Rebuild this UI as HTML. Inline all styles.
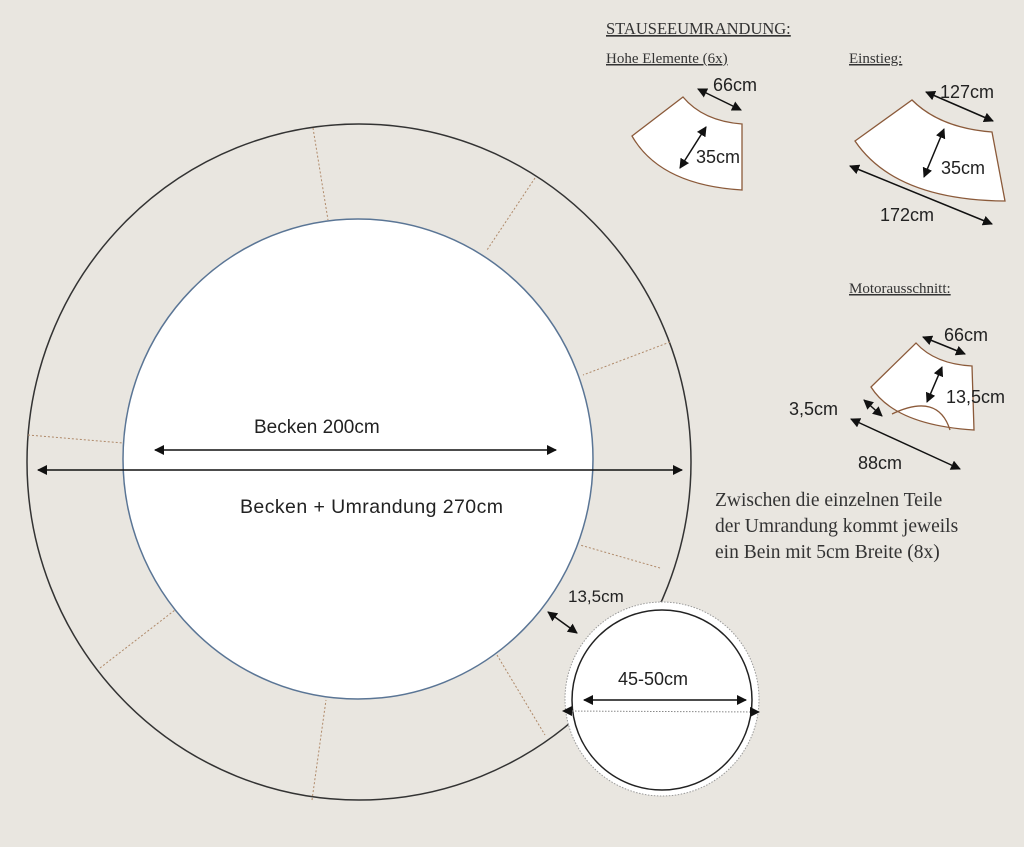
<!DOCTYPE html>
<html><head><meta charset="utf-8"><style>
html,body{margin:0;padding:0;background:#e9e6e0;}
svg{display:block;}
.s{font-family:"Liberation Sans",sans-serif;fill:#222;}
.r{font-family:"Liberation Serif",serif;fill:#333;}
</style></head><body>
<svg width="1024" height="847" viewBox="0 0 1024 847" xmlns="http://www.w3.org/2000/svg">
<defs>
<marker id="a" viewBox="0 0 10 10" refX="9" refY="5" markerWidth="10" markerHeight="10" markerUnits="userSpaceOnUse" orient="auto-start-reverse"><path d="M0,0L10,5L0,10z" fill="#111"/></marker>
</defs>
<rect width="1024" height="847" fill="#e9e6e0"/>
<ellipse cx="359" cy="462" rx="332" ry="338" fill="none" stroke="#333" stroke-width="1.5"/>
<g stroke="#b08a6a" stroke-width="1" stroke-dasharray="2,2">
<line x1="313" y1="128" x2="328" y2="220"/><line x1="535" y1="178" x2="487" y2="250"/>
<line x1="670" y1="342" x2="583" y2="375"/><line x1="28" y1="435" x2="123" y2="443"/>
<line x1="660" y1="568" x2="580" y2="545"/><line x1="100" y1="668" x2="175" y2="610"/>
<line x1="497" y1="655" x2="545" y2="735"/><line x1="312" y1="800" x2="326" y2="700"/>
</g>
<ellipse cx="358" cy="459" rx="235" ry="240" fill="#fff" stroke="#5a7595" stroke-width="1.5"/>
<line x1="155" y1="450" x2="556" y2="450" stroke="#111" stroke-width="1.5" marker-start="url(#a)" marker-end="url(#a)"/>
<line x1="38" y1="470" x2="682" y2="470" stroke="#111" stroke-width="1.5" marker-start="url(#a)" marker-end="url(#a)"/>
<text x="254" y="433" class="s" font-size="19">Becken 200cm</text>
<text x="240" y="513" class="s" font-size="19.5" textLength="263">Becken + Umrandung 270cm</text>
<circle cx="662" cy="699" r="97" fill="#fff" stroke="#999" stroke-width="1" stroke-dasharray="1.5,1.5"/>
<circle cx="662" cy="700" r="90" fill="#fff" stroke="#222" stroke-width="1.5"/>
<line x1="563" y1="711" x2="759" y2="712" stroke="#888" stroke-width="1" stroke-dasharray="1.5,1.5" marker-start="url(#a)" marker-end="url(#a)"/>
<line x1="584" y1="700" x2="746" y2="700" stroke="#111" stroke-width="1.5" marker-start="url(#a)" marker-end="url(#a)"/>
<text x="618" y="685" class="s" font-size="18">45-50cm</text>
<line x1="548" y1="612" x2="577" y2="633" stroke="#111" stroke-width="1.5" marker-start="url(#a)" marker-end="url(#a)"/>
<text x="568" y="602" class="s" font-size="17">13,5cm</text>
<text x="606" y="34" class="r" font-size="16.5" text-decoration="underline">STAUSEEUMRANDUNG:</text>
<text x="606" y="63" class="r" font-size="15" text-decoration="underline">Hohe Elemente (6x)</text>
<text x="849" y="63" class="r" font-size="15" text-decoration="underline">Einstieg:</text>
<text x="849" y="293" class="r" font-size="15" text-decoration="underline">Motorausschnitt:</text>
<path d="M683,97 Q703,121 742,124 L742,190 Q660,185 632,136 Z" fill="#fff" stroke="#8b5a3a" stroke-width="1.3"/>
<line x1="698" y1="89" x2="741" y2="110" stroke="#111" stroke-width="1.5" marker-start="url(#a)" marker-end="url(#a)"/>
<line x1="706" y1="127" x2="680" y2="168" stroke="#111" stroke-width="1.5" marker-start="url(#a)" marker-end="url(#a)"/>
<text x="713" y="91" class="s" font-size="18">66cm</text>
<text x="696" y="163" class="s" font-size="18">35cm</text>
<path d="M912,100 Q940,128 992,132 L1005,201 Q895,200 855,141 Z" fill="#fff" stroke="#8b5a3a" stroke-width="1.3"/>
<line x1="926" y1="92" x2="993" y2="121" stroke="#111" stroke-width="1.5" marker-start="url(#a)" marker-end="url(#a)"/>
<line x1="944" y1="129" x2="924" y2="177" stroke="#111" stroke-width="1.5" marker-start="url(#a)" marker-end="url(#a)"/>
<line x1="850" y1="166" x2="992" y2="224" stroke="#111" stroke-width="1.5" marker-start="url(#a)" marker-end="url(#a)"/>
<text x="940" y="98" class="s" font-size="18">127cm</text>
<text x="941" y="174" class="s" font-size="18">35cm</text>
<text x="880" y="221" class="s" font-size="18">172cm</text>
<path d="M916,343 Q935,364 972,366 L974,430 Q895,425 871,387 Z" fill="#fff" stroke="#8b5a3a" stroke-width="1.3"/>
<path d="M892,414 Q938,392 950,430" fill="none" stroke="#8b5a3a" stroke-width="1.3"/>
<line x1="923" y1="337" x2="965" y2="354" stroke="#111" stroke-width="1.5" marker-start="url(#a)" marker-end="url(#a)"/>
<line x1="942" y1="367" x2="927" y2="402" stroke="#111" stroke-width="1.5" marker-start="url(#a)" marker-end="url(#a)"/>
<line x1="864" y1="400" x2="882" y2="416" stroke="#111" stroke-width="1.5" marker-start="url(#a)" marker-end="url(#a)"/>
<line x1="851" y1="419" x2="960" y2="469" stroke="#111" stroke-width="1.5" marker-start="url(#a)" marker-end="url(#a)"/>
<text x="944" y="341" class="s" font-size="18">66cm</text>
<text x="946" y="403" class="s" font-size="18">13,5cm</text>
<text x="789" y="415" class="s" font-size="18">3,5cm</text>
<text x="858" y="469" class="s" font-size="18">88cm</text>
<text x="715" y="506" class="r" font-size="19.5">Zwischen die einzelnen Teile</text>
<text x="715" y="532" class="r" font-size="19.5">der Umrandung kommt jeweils</text>
<text x="715" y="558" class="r" font-size="19.5">ein Bein mit 5cm Breite (8x)</text>
</svg>
</body></html>
